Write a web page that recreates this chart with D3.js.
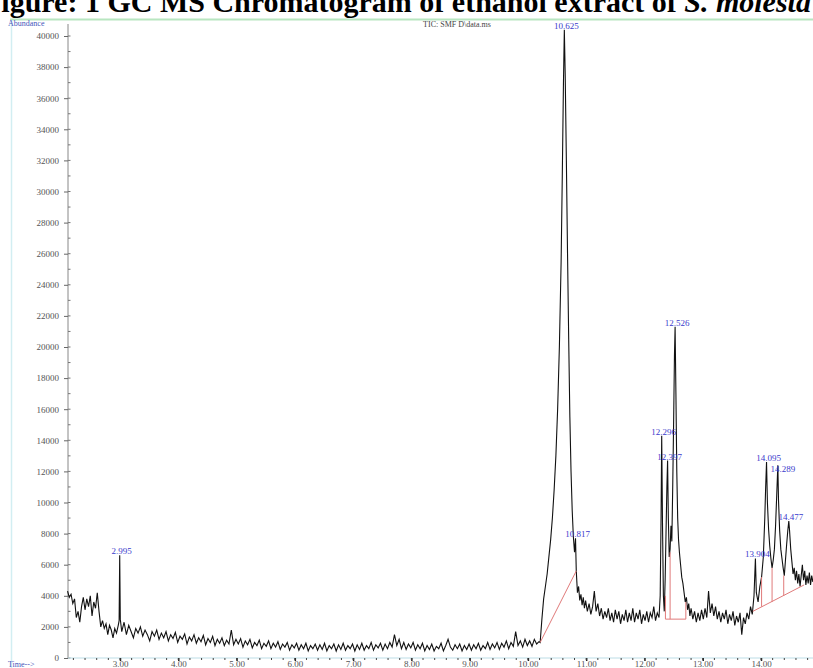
<!DOCTYPE html>
<html><head><meta charset="utf-8">
<script src="https://cdn.jsdelivr.net/npm/d3@7"></script>
<style>html,body{margin:0;padding:0;background:#fff;overflow:hidden}</style>
</head><body>
<svg id="c" width="813" height="668"></svg>
<script>
// ---- data ----
const times = [
2.10,2.13,2.16,2.19,2.22,2.25,2.28,2.31,2.34,2.37,2.40,2.43,2.46,2.49,2.52,2.55,2.58,2.61,2.64,2.67,2.70,2.73,2.76,2.79,2.82,2.85,2.88,2.91,2.94,2.97,2.985,2.995,3.005,3.03,
3.07,3.11,3.15,3.19,3.23,3.27,3.31,3.35,3.39,3.43,3.47,3.51,3.55,3.59,3.63,3.67,3.71,3.75,3.79,3.83,3.87,3.91,3.95,3.99,
4.03,4.07,4.11,4.15,4.19,4.23,4.27,4.31,4.35,4.39,4.43,4.47,4.51,4.55,4.59,4.63,4.67,4.71,4.75,4.79,4.83,4.87,4.91,4.95,4.99,
5.03,5.07,5.11,5.15,5.19,5.23,5.27,5.31,5.35,5.39,5.43,5.47,5.51,5.55,5.59,5.63,5.67,5.71,5.75,5.79,5.83,5.87,5.91,5.95,5.99,
6.03,6.07,6.11,6.15,6.19,6.23,6.27,6.31,6.35,6.39,6.43,6.47,6.51,6.55,6.59,6.63,6.67,6.71,6.75,6.79,6.83,6.87,6.91,6.95,6.99,
7.03,7.07,7.11,7.15,7.19,7.23,7.27,7.31,7.35,7.39,7.43,7.47,7.51,7.55,7.59,7.63,7.67,7.71,7.75,7.79,7.83,7.87,7.91,7.95,7.99,
8.03,8.07,8.11,8.15,8.19,8.23,8.27,8.31,8.35,8.39,8.43,8.47,8.51,8.55,8.59,8.63,8.67,8.71,8.75,8.79,8.83,8.87,8.91,8.95,8.99,
9.03,9.07,9.11,9.15,9.19,9.23,9.27,9.31,9.35,9.39,9.43,9.47,9.51,9.55,9.59,9.63,9.67,9.71,9.75,9.79,9.83,9.87,9.91,9.95,9.99,
10.03,10.07,10.11,10.15,10.19,10.21,10.24,10.27,10.30,10.33,10.36,10.39,10.42,10.45,10.48,10.51,10.54,10.57,10.59,10.61,10.625,10.64,10.66,10.68,10.70,10.72,10.74,10.76,10.78,10.80,10.817,10.83,10.85,10.87,10.89,10.91,10.93,10.95,10.97,10.99,
11.02,11.05,11.08,11.11,11.14,11.17,11.20,11.23,11.26,11.29,11.32,11.35,11.38,11.41,11.44,11.47,11.50,11.53,11.56,11.59,11.62,11.65,11.68,11.71,11.74,11.77,11.80,11.83,11.86,11.89,11.92,11.95,11.98,
12.01,12.04,12.07,12.10,12.13,12.16,12.19,12.22,12.25,12.27,12.285,12.296,12.31,12.325,12.34,12.355,12.37,12.385,12.397,12.41,12.425,12.44,12.455,12.47,12.485,12.50,12.515,12.526,12.54,12.555,12.57,12.585,12.60,12.62,12.64,12.66,12.68,12.70,12.72,12.74,12.76,12.78,12.80,12.83,12.86,12.89,12.92,12.95,12.98,
13.01,13.04,13.07,13.10,13.13,13.16,13.19,13.22,13.25,13.28,13.31,13.34,13.37,13.40,13.43,13.46,13.49,13.52,13.55,13.58,13.61,13.64,13.67,13.70,13.73,13.76,13.79,13.82,13.85,13.88,13.904,13.92,13.95,13.98,
14.01,14.04,14.065,14.08,14.095,14.11,14.13,14.15,14.17,14.19,14.21,14.23,14.25,14.27,14.289,14.30,14.32,14.34,14.36,14.38,14.40,14.42,14.44,14.46,14.477,14.49,14.51,14.53,14.55,14.57,14.59,14.61,14.63,14.65,14.67,14.69,14.71,14.73,14.75,14.77,14.79,14.81,14.83,14.85,14.87,14.89,14.92
];
const abundance = [
4300,3900,4100,3500,3800,2600,3000,2300,3300,3900,3100,3800,3300,4000,2700,3600,3200,4200,3000,2000,2400,1900,2200,1500,2100,1800,1300,1900,1600,2100,2400,6600,2500,1700,
2300,1500,2100,1700,1300,1900,1600,2000,1400,1800,1500,1100,1700,1400,1800,1200,1600,1300,1700,1100,1500,1250,1650,1000,
1400,1200,1550,900,1350,1100,1500,950,1300,1050,1450,850,1250,1000,1400,800,1200,950,1300,800,1150,900,1800,850,1200,
900,1250,700,1100,850,1200,650,1000,800,1150,600,950,750,1100,600,950,700,1050,550,900,700,1000,500,850,650,
950,500,850,600,950,450,800,600,900,500,850,550,950,450,800,600,900,450,850,550,950,500,800,600,900,
450,850,550,950,500,800,600,1000,500,850,650,950,500,900,600,1000,700,1500,800,1200,600,1000,550,900,650,
1000,500,850,600,950,450,800,550,900,450,750,600,950,450,800,1200,700,500,850,600,900,450,800,550,900,
500,850,600,950,500,800,600,1000,550,900,650,1000,550,950,700,1100,600,1000,750,1700,800,1100,700,1200,800,
1100,750,1200,900,1050,1000,2500,3800,4600,5400,6500,7600,9000,10800,13000,16000,20000,25500,31000,37000,40400,37500,32000,26000,20500,15500,12000,9500,7800,6800,7700,5600,4200,4600,3700,4100,3400,3900,3200,3700,
3000,3500,2800,3300,4300,3000,3500,2700,3200,2500,3000,2600,3200,2400,2900,2300,3100,2500,3000,2200,2800,2400,3100,2300,2900,2400,3200,2300,2900,2500,3100,2200,2800,
2400,3000,2300,2900,2600,3300,2400,2900,2600,4000,9000,14300,8500,4000,3000,5000,8000,11000,12700,9000,6500,7000,8500,7500,11000,15000,19500,21300,17000,12000,9000,7600,6800,6000,5200,4800,4200,3600,3900,3100,3500,2700,3200,2500,3000,2300,2900,2400,3100,
2500,3200,2600,4300,2900,3500,2700,3300,2500,3000,2300,2900,2500,3100,2200,2800,2400,3000,2100,2700,2300,2900,1500,2600,2200,2900,2500,3300,2800,4000,6400,4200,3600,4600,
5200,6500,9000,11000,12600,10000,8300,7200,6400,5800,6300,7000,8500,10500,12400,10200,8200,7000,6400,5800,5300,6300,7300,8200,8800,8200,7000,6200,5400,5800,5000,5600,4800,5400,4600,5300,6000,5000,5600,4700,5300,4800,5500,4700,5300,4900,5400
];
const peakTimes  = [2.995, 10.625, 10.817, 12.296, 12.397, 12.526, 13.904, 14.095, 14.289, 14.477];
const peakLabels = ["2.995","10.625","10.817","12.296","12.397","12.526","13.904","14.095","14.289","14.477"];
const peakApex   = [6600, 40400, 7700, 14300, 12700, 21300, 6400, 12600, 12400, 8800];
// integration baselines (red)
const baseSegments = [
  [[10.21,1000],[10.83,5600]],
  [[12.36,2500],[12.36,4000]],
  [[12.36,2500],[12.71,2500]],
  [[12.44,2500],[12.44,6800]],
  [[12.71,2500],[12.71,3600]],
  [[13.86,3000],[14.74,4700]],
  [[14.01,3300],[14.01,5200]],
  [[14.19,3600],[14.19,5800]],
  [[14.39,4000],[14.39,5300]]
];
const yTicks = [0,2000,4000,6000,8000,10000,12000,14000,16000,18000,20000,22000,24000,26000,28000,30000,32000,34000,36000,38000,40000];
const xTicks = [3,4,5,6,7,8,9,10,11,12,13,14];

// ---- drawing ----
const svg = d3.select("#c");
const x = d3.scaleLinear().domain([3,14]).range([120,761]);
const y = d3.scaleLinear().domain([0,40000]).range([658,36]);

// caption (cropped at top)
const cap = svg.append("text").attr("x",-17).attr("y",12)
  .attr("font-family","'Liberation Serif','Times New Roman',serif")
  .attr("font-weight","bold").attr("font-size",30).attr("fill","#000");
cap.append("tspan").text("Figure: 1 GC MS Chromatogram of ethanol extract of ");
cap.append("tspan").attr("font-style","italic").text("S. molesta");

// frame lines
svg.append("line").attr("x1",10).attr("x2",813).attr("y1",19.5).attr("y2",19.5).attr("stroke","#b8e6c0").attr("stroke-width",2);
svg.append("line").attr("x1",11.5).attr("x2",11.5).attr("y1",20).attr("y2",668).attr("stroke","#d2eef2").attr("stroke-width",1.5);

// small header texts
svg.append("text").attr("x",8).attr("y",26).attr("font-family","'Liberation Serif',serif").attr("font-size",8).attr("fill","#4455bb").text("Abundance");
svg.append("text").attr("x",457).attr("y",27).attr("text-anchor","middle").attr("font-family","'Liberation Serif',serif").attr("font-size",8).attr("fill","#444").text("TIC: SMF D\\data.ms");
svg.append("text").attr("x",8).attr("y",667).attr("font-family","'Liberation Serif',serif").attr("font-size",8).attr("fill","#4455bb").text("Time-->");

// y axis
const ya = svg.append("g").attr("transform","translate(68,0)")
  .call(d3.axisLeft(y).tickValues(yTicks).tickSize(4).tickPadding(5).tickFormat(d3.format("d")));
ya.select(".domain").attr("stroke","#888").attr("d","M0,24V658");
ya.selectAll(".tick line").attr("stroke","#666");
ya.selectAll(".tick text").attr("font-family","'Liberation Serif',serif").attr("font-size",9).attr("fill","#555");
const yMinor = d3.range(0,41).map(i=>i*1000);
svg.append("g").selectAll("line").data(yMinor).join("line")
  .attr("x1",68).attr("x2",70.5).attr("y1",d=>y(d)).attr("y2",d=>y(d)).attr("stroke","#777");

// x axis
const xa = svg.append("g").attr("transform","translate(0,658)")
  .call(d3.axisBottom(x).tickValues(xTicks).tickSize(3).tickPadding(0).tickFormat(d3.format(".2f")));
xa.select(".domain").attr("stroke","#bcdde6").attr("d","M68,0H813");
xa.selectAll(".tick line").attr("stroke","#222").attr("stroke-width",1.5);
xa.selectAll(".tick text").attr("font-family","'Liberation Serif',serif").attr("font-size",9).attr("fill","#555");
const xMinor = d3.range(11,75).map(i=>i/5);
svg.append("g").selectAll("line").data(xMinor).join("line")
  .attr("x1",d=>x(d)).attr("x2",d=>x(d)).attr("y1",658).attr("y2",660).attr("stroke","#444");

// trace
const pts = times.map((t,i)=>[t,abundance[i]]);
svg.append("path").datum(pts)
  .attr("fill","none").attr("stroke","#111").attr("stroke-width",1.1)
  .attr("d", d3.line().x(d=>x(d[0])).y(d=>y(d[1])));

// integration lines
svg.append("g").selectAll("line").data(baseSegments).join("line")
  .attr("x1",d=>x(d[0][0])).attr("y1",d=>y(d[0][1]))
  .attr("x2",d=>x(d[1][0])).attr("y2",d=>y(d[1][1]))
  .attr("stroke","#e07a7a").attr("stroke-width",1);

// peak labels
const labelShift = {"14.289":[3,8]};
svg.append("g").selectAll("text").data(peakTimes).join("text")
  .attr("x",(d,i)=>x(d)+2+((labelShift[peakLabels[i]]||[0,0])[0]))
  .attr("y",(d,i)=>y(peakApex[i])-1+((labelShift[peakLabels[i]]||[0,0])[1]))
  .attr("text-anchor","middle")
  .attr("font-family","'Liberation Serif',serif").attr("font-size",9).attr("fill","#3a3acc")
  .text((d,i)=>peakLabels[i]);
</script>
</body></html>
